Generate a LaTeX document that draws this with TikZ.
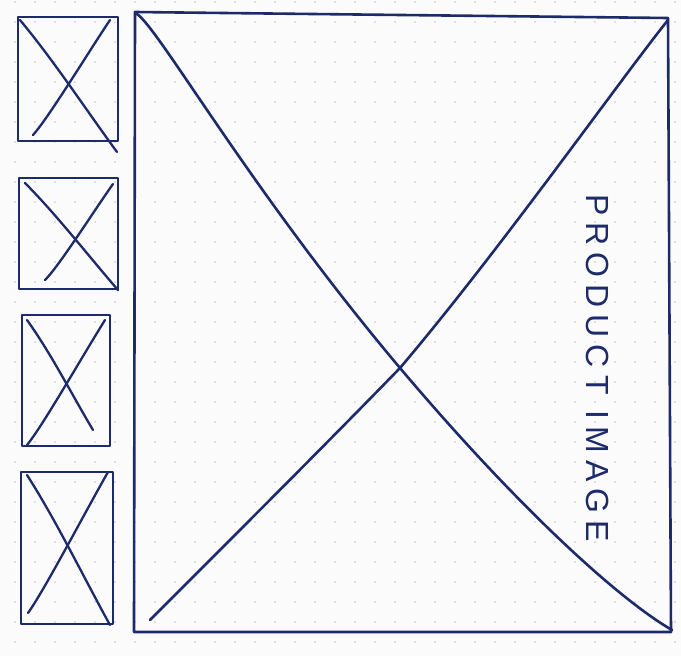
\documentclass[tikz,border=0pt]{standalone}
\usepackage{fontspec}
\setmainfont{Liberation Sans}
\definecolor{ink}{HTML}{1E2B6A}
\definecolor{paper}{HTML}{FBFBFB}
\begin{document}
\begin{tikzpicture}[x=1pt,y=-1pt,
  pen/.style={draw=ink,line width=2.6pt,line cap=round,line join=round},
  thinpen/.style={draw=ink,line width=2.3pt,line cap=round}]
\fill[paper] (0,0) rectangle (681,656);
\useasboundingbox (0,0) rectangle (681,656);
% dot grid
\foreach \i in {0,...,33}{\foreach \j in {0,...,32}{
  \fill[gray!45] (15+20*\i,2+20*\j) circle (0.8);}}
% main frame
\coordinate (TL) at (135,12);
\coordinate (TR) at (668,18);
\coordinate (BR) at (671,632);
\coordinate (BL) at (134,632);
\draw[pen] (TL) -- (TR) -- (BR) -- (BL) -- cycle;
\draw[pen] (137,14) .. controls (160,30) and (250,190) .. (400,368) .. controls (520,510) and (620,600) .. (672,630);
\draw[pen] (150,620) .. controls (250,520) and (330,440) .. (400,368) .. controls (500,250) and (620,80) .. (668,20);
\node[rotate=-90,text=ink,font=\fontsize{32}{32}\selectfont\addfontfeatures{LetterSpace=22},anchor=center,inner sep=0pt] (label) at (598,368) {PRODUCT IMAGE};
% thumbnails
\foreach \l/\t/\r/\b/\ax/\ay/\bx/\by/\cx/\cy/\dx/\dy in {
  18/17/118/141/20/20/117/152/33/135/110/20,
  19/178/118/289/25/183/118/290/45/280/113/184,
  22/315/110/446/27/320/93/430/27/445/105/320,
  21/472/113/624/27/475/110/625/28/613/108/472}{
  \draw[pen] (\l,\t) -- (\r,\t) -- (\r,\b) -- (\l,\b) -- cycle;
  \draw[thinpen] (\ax,\ay) .. controls ({\ax+0.3*(\bx-\ax)+4},{\ay+0.3*(\by-\ay)}) and ({\ax+0.7*(\bx-\ax)},{\ay+0.7*(\by-\ay)}) .. (\bx,\by);
  \draw[thinpen] (\cx,\cy) .. controls ({\cx+0.2*(\dx-\cx)},{\cy+0.2*(\dy-\cy)+6}) and ({\cx+0.7*(\dx-\cx)},{\cy+0.7*(\dy-\cy)}) .. (\dx,\dy);
}
\end{tikzpicture}
\end{document}
